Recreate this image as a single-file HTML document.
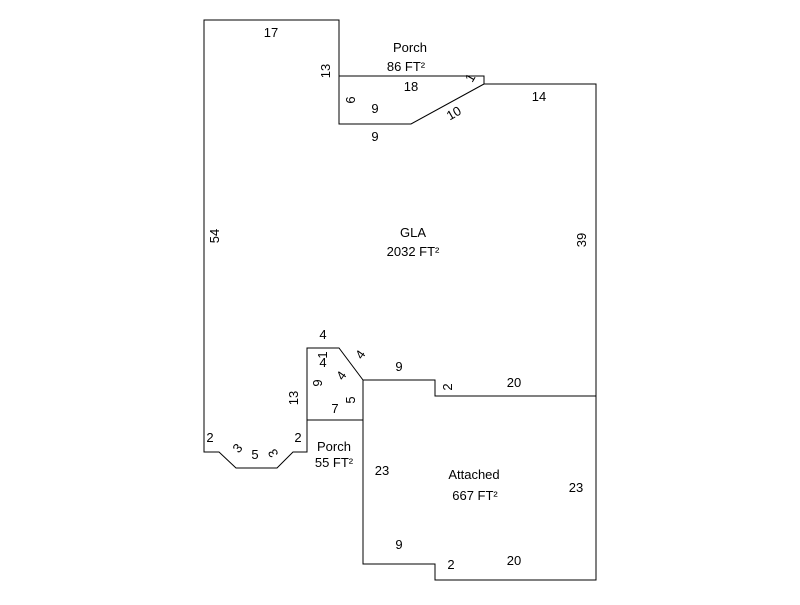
<!DOCTYPE html>
<html><head><style>
body{margin:0;background:#fff}
svg text{font-family:"Liberation Sans",Arial,sans-serif;font-size:13px;fill:#000}
</style></head><body>
<svg width="800" height="600" viewBox="0 0 800 600" xmlns="http://www.w3.org/2000/svg">
<g fill="none" stroke="#000" stroke-width="1">
<polyline points="339,76 339,20 204,20 204,452 219,452 236,468 277,468 293,452 307,452 307,348 339,348 363,380 435,380 435,396 596,396 596,84 484,84 484,76 339,76 339,124 411,124 484,84"/>
<polyline points="307,420 363,420"/>
<polyline points="363,380 363,564 435,564 435,580 596,580 596,396"/>
</g>
<g text-anchor="middle">
<text x="271" y="37">17</text>
<text x="410" y="52">Porch</text>
<text x="406" y="71">86 FT²</text>
<text x="411" y="91">18</text>
<text x="375" y="113">9</text>
<text x="375" y="141">9</text>
<text x="539" y="101">14</text>
<text x="413" y="237">GLA</text>
<text x="413" y="256">2032 FT²</text>
<text x="323" y="339">4</text>
<text x="323" y="367">4</text>
<text x="399" y="371">9</text>
<text x="335" y="413">7</text>
<text x="514" y="387">20</text>
<text x="210" y="442">2</text>
<text x="255" y="459">5</text>
<text x="298" y="442">2</text>
<text x="334" y="451">Porch</text>
<text x="334" y="467">55 FT²</text>
<text x="382" y="475">23</text>
<text x="474" y="479">Attached</text>
<text x="475" y="500">667 FT²</text>
<text x="576" y="492">23</text>
<text x="399" y="549">9</text>
<text x="451" y="569">2</text>
<text x="514" y="565">20</text>
<text transform="translate(330,71) rotate(-90)">13</text>
<text transform="translate(355,100) rotate(-90)">6</text>
<text transform="translate(474,80) rotate(-60)">1</text>
<text transform="translate(456,117) rotate(-30)">10</text>
<text transform="translate(219,236) rotate(-90)">54</text>
<text transform="translate(586,240) rotate(-90)">39</text>
<text transform="translate(298,398) rotate(-90)">13</text>
<text transform="translate(327,355) rotate(-90)">1</text>
<text transform="translate(322,383) rotate(-90)">9</text>
<text transform="translate(345,378) rotate(-55)">4</text>
<text transform="translate(364,357) rotate(-55)">4</text>
<text transform="translate(355,400) rotate(-90)">5</text>
<text transform="translate(452,387) rotate(-90)">2</text>
<text transform="translate(241,451) rotate(-50)">3</text>
<text transform="translate(277,451) rotate(-120)">3</text>
</g>
</svg>
</body></html>
